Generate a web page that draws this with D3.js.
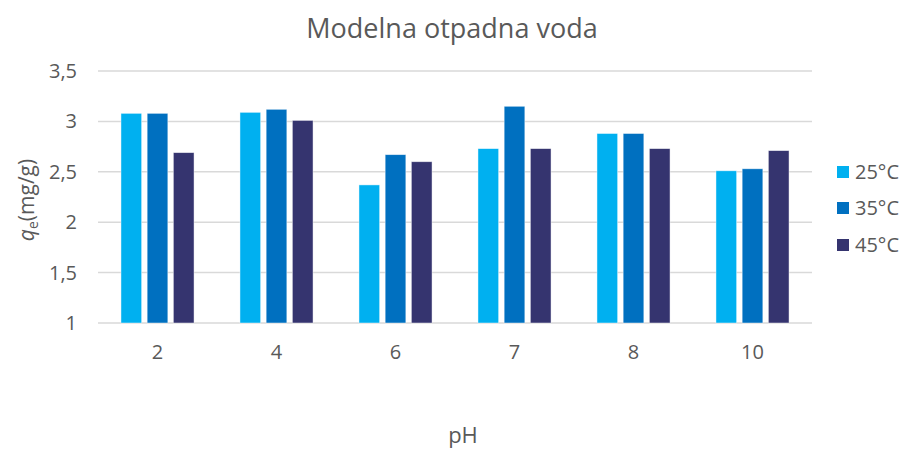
<!DOCTYPE html>
<html>
<head>
<meta charset="utf-8">
<script src="https://cdn.jsdelivr.net/npm/d3@7"></script>
<style>
  body { margin: 0; background: #fff; }
  svg { font-family: "Open Sans", sans-serif; }
</style>
</head>
<body>
<svg id="viz" width="913" height="452"></svg>
<script>
// === DATA ===
const categories = ["2", "4", "6", "7", "8", "10"];
const seriesNames = ["25°C", "35°C", "45°C"];
const values25 = [3.08, 3.09, 2.37, 2.73, 2.88, 2.51];
const values35 = [3.08, 3.12, 2.67, 3.15, 2.88, 2.53];
const values45 = [2.69, 3.01, 2.60, 2.73, 2.73, 2.71];
const yTicks = [1, 1.5, 2, 2.5, 3, 3.5];
const colors = ["#00B0F0", "#0070C0", "#35346F"];

const seriesValues = [values25, values35, values45];

// === LAYOUT ===
const svg = d3.select("#viz");
const margin = { top: 71, right: 101, bottom: 129, left: 98 };
const width = +svg.attr("width");
const height = +svg.attr("height");
const plotWidth = width - margin.left - margin.right;
const plotHeight = height - margin.top - margin.bottom;
const textColor = "#595959";

const g = svg.append("g").attr("transform", `translate(${margin.left},${margin.top})`);

const x0 = d3.scaleBand()
  .domain(categories)
  .range([0, plotWidth])
  .paddingInner(0.386)
  .paddingOuter(0.193);

const x1 = d3.scaleBand()
  .domain(seriesNames)
  .range([0, x0.bandwidth()])
  .paddingInner(0.21);

const y = d3.scaleLinear()
  .domain([1, 3.5])
  .range([plotHeight, 0]);

// gridlines
g.append("g")
  .selectAll("line")
  .data(yTicks)
  .enter()
  .append("line")
  .attr("x1", 0)
  .attr("x2", plotWidth)
  .attr("y1", d => y(d))
  .attr("y2", d => y(d))
  .attr("stroke", "#d9d9d9")
  .attr("stroke-width", 1.5);

// y axis labels
const yAxis = d3.axisLeft(y)
  .tickValues(yTicks)
  .tickSize(0)
  .tickPadding(21)
  .tickFormat(d => String(d).replace(".", ","));

g.append("g")
  .call(yAxis)
  .call(a => a.select(".domain").remove())
  .selectAll("text")
  .attr("fill", textColor)
  .style("font-size", "20px")
  .style("font-family", "Open Sans");

// x axis labels
const xAxis = d3.axisBottom(x0).tickSize(0).tickPadding(22);
g.append("g")
  .attr("transform", `translate(0,${plotHeight})`)
  .call(xAxis)
  .call(a => a.select(".domain").remove())
  .selectAll("text")
  .attr("fill", textColor)
  .style("font-size", "20px")
  .style("font-family", "Open Sans");

// bars
const groups = g.selectAll(".grp")
  .data(categories)
  .enter()
  .append("g")
  .attr("class", "grp")
  .attr("transform", d => `translate(${x0(d)},0)`);

groups.selectAll("rect")
  .data((d, i) => seriesNames.map((s, j) => ({ series: s, value: seriesValues[j][i], color: colors[j] })))
  .enter()
  .append("rect")
  .attr("x", d => x1(d.series))
  .attr("y", d => y(d.value))
  .attr("width", x1.bandwidth())
  .attr("height", d => y(1) - y(d.value))
  .attr("fill", d => d.color)
  .attr("stroke", "#ffffff")
  .attr("stroke-opacity", 0.6)
  .attr("stroke-width", 0.75);

// title
svg.append("text")
  .attr("x", 452)
  .attr("y", 38)
  .attr("text-anchor", "middle")
  .attr("fill", textColor)
  .style("font-family", "Open Sans")
  .style("font-size", "27px")
  .text("Modelna otpadna voda");

// x axis title
svg.append("text")
  .attr("x", 463)
  .attr("y", 443)
  .attr("text-anchor", "middle")
  .attr("fill", textColor)
  .style("font-size", "22px")
  .text("pH");

// y axis title
const yTitle = svg.append("text")
  .attr("transform", "translate(34,200) rotate(-90)")
  .attr("text-anchor", "middle")
  .attr("fill", textColor)
  .style("font-size", "21px");
yTitle.append("tspan").style("font-style", "italic").text("q");
yTitle.append("tspan").attr("dy", 4).style("font-size", "14px").text("e");
yTitle.append("tspan").attr("dy", -4).text("(mg/g)");

// legend
const legend = svg.append("g").attr("transform", "translate(837,0)");
const legendY = [172, 208, 245];
seriesNames.forEach((s, i) => {
  legend.append("rect")
    .attr("x", 0)
    .attr("y", legendY[i] - 6)
    .attr("width", 12)
    .attr("height", 12)
    .attr("fill", colors[i]);
  legend.append("text")
    .attr("x", 18)
    .attr("y", legendY[i])
    .attr("dy", "0.35em")
    .attr("fill", textColor)
    .style("font-size", "20px")
    .text(s);
});
</script>
</body>
</html>
